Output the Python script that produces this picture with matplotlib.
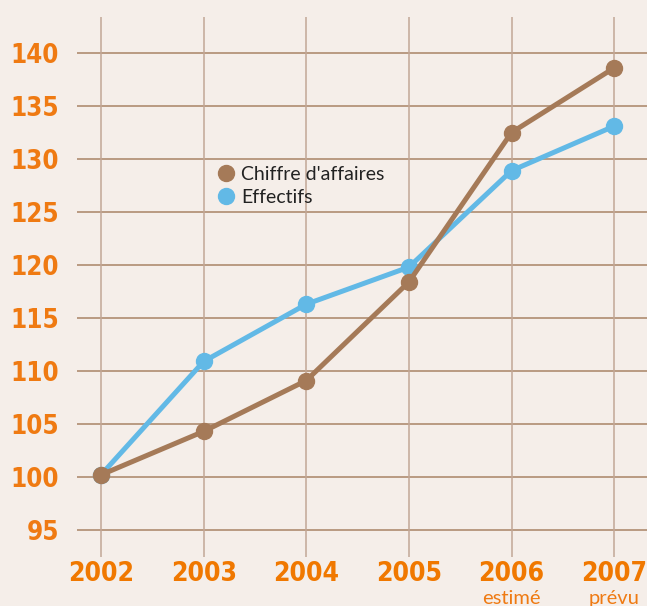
import numpy as np
import matplotlib.pyplot as plt
from matplotlib.lines import Line2D

# Data
years = [2002, 2003, 2004, 2005, 2006, 2007]
chiffre_affaires = [100.2, 104.3, 109.1, 118.4, 132.5, 138.6]
effectifs = [100.2, 110.9, 116.3, 119.8, 128.9, 133.1]
y_ticks = [95, 100, 105, 110, 115, 120, 125, 130, 135, 140]
year_notes = {2006: "estimé", 2007: "prévu"}

BG = "#F5EEE9"
BROWN = "#A57A58"
BLUE = "#62B9E6"
ORANGE = "#EF7A12"

fig = plt.figure(figsize=(6.47, 6.06), dpi=100, facecolor=BG)
W, H = 647, 606
ax = fig.add_axes([77 / W, 1 - 557 / H, 1 - 77 / W, (557 - 17) / H])
ax.set_facecolor(BG)

ax.set_xlim(2001.766, 2007.32)
ax.set_ylim(92.45, 143.4)

# grid
for y in y_ticks:
    ax.axhline(y, color="#A98466", lw=1.1, zorder=1)
for x in years:
    ax.axvline(x, color="#C2A796", lw=1.1, zorder=1)

ax.plot(years, effectifs, color=BLUE, lw=3.6, marker="o", ms=11.5, zorder=3)
ax.plot(years, chiffre_affaires, color=BROWN, lw=3.6, marker="o", ms=11.5, zorder=4)

for s in ax.spines.values():
    s.set_visible(False)

bold = dict(family="DejaVu Sans", stretch="condensed", weight="bold")
ax.set_yticks(y_ticks)
ax.set_yticklabels([str(v) for v in y_ticks], fontsize=18.5, color=ORANGE, **bold)
ax.set_xticks(years)
ax.set_xticklabels([str(v) for v in years], fontsize=19, color="#F07800", **bold)
ax.tick_params(axis="y", length=0, pad=13)
ax.tick_params(axis="x", length=0, pad=3)

for yr, note in year_notes.items():
    ax.text(yr, -0.0775, note, transform=ax.get_xaxis_transform(), ha="center",
            va="center", fontsize=14.5, color=ORANGE, fontfamily="Lato")

handles = [
    Line2D([], [], ls="none", marker="o", ms=11.5, color=BROWN),
    Line2D([], [], ls="none", marker="o", ms=11.5, color=BLUE),
]
fig.legend(handles, ["Chiffre d'affaires", "Effectifs"], loc="upper left",
           bbox_to_anchor=(218 / W, 1 - 166 / H), frameon=False, handlelength=0.8,
           handletextpad=0.4, labelspacing=0.3, borderpad=0, borderaxespad=0,
           prop={"family": "Lato", "size": 14}, labelcolor="#222222")

fig.savefig("out.png", dpi=100, facecolor=BG)
